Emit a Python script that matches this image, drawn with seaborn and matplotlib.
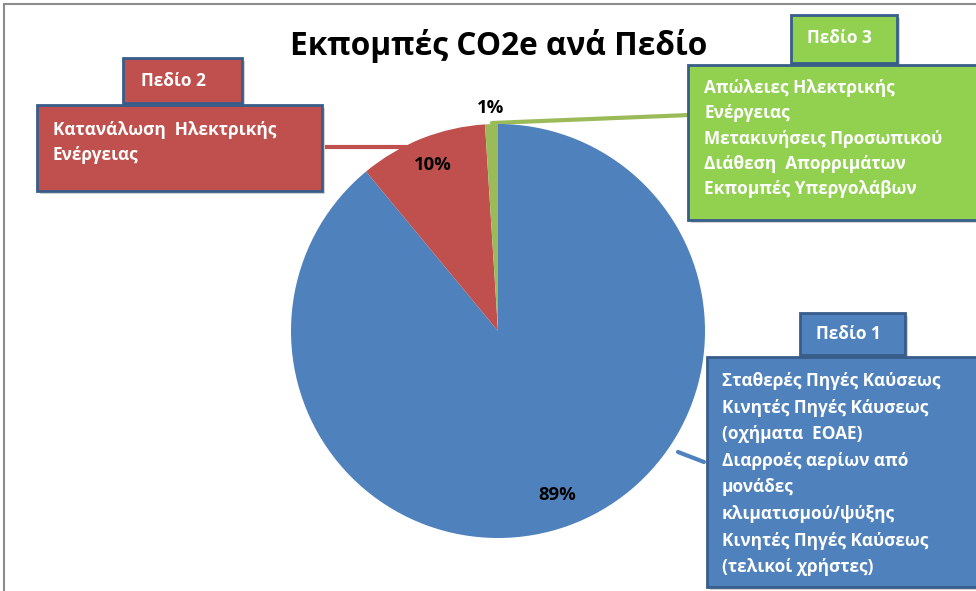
import matplotlib
matplotlib.use("Agg")
import matplotlib.pyplot as plt
import matplotlib.patches as mpatches
import numpy as np
import seaborn as sns

# DATA
scopes = ["Πεδίο 1", "Πεδίο 2", "Πεδίο 3"]
shares = [89, 10, 1]
scope1_sources = ["Σταθερές Πηγές Καύσεως", "Κινητές Πηγές Κάυσεως", "(οχήματα  ΕΟΑΕ)",
                  "Διαρροές αερίων από", "μονάδες", "κλιματισμού/ψύξης",
                  "Κινητές Πηγές Καύσεως", "(τελικοί χρήστες)"]
scope2_sources = ["Κατανάλωση  Ηλεκτρικής", "Ενέργειας"]
scope3_sources = ["Απώλειες Ηλεκτρικής", "Ενέργειας", "Μετακινήσεις Προσωπικού",
                  "Διάθεση  Απορριμάτων", "Εκπομπές Υπεργολάβων"]
title = "Εκπομπές CO2e ανά Πεδίο"

sns.set_theme(style="white")
plt.rcParams['font.family'] = ['Open Sans', 'DejaVu Sans']

slice_colors = ["#4F81BD", "#C0504D", "#9BBB59"]
box_colors = ["#4F81BD", "#C0504D", "#92D050"]
edge = "#385D8A"
fs = 12.4

fig = plt.figure(figsize=(9.76, 5.91), dpi=100)

# overlay in pixel coords
ov = fig.add_axes([0, 0, 1, 1])
ov.set_xlim(0, 976)
ov.set_ylim(591, 0)
ov.axis("off")

# pie axes: center (498, 331), radius 207 px
cx, cy, r = 498, 331, 207
pax = fig.add_axes([(cx - r) / 976, (591 - cy - r) / 591, 2 * r / 976, 2 * r / 591])
wedges, _ = pax.pie(shares, colors=slice_colors, startangle=90, counterclock=False,
                    radius=1, wedgeprops=dict(linewidth=0))
pax.set_xlim(-1, 1)
pax.set_ylim(-1, 1)
pax.set_aspect("equal")
pax.axis("off")

label_dist = [0.84, 0.86, 1.08]
for w, s, d in zip(wedges, shares, label_dist):
    mid = np.deg2rad((w.theta1 + w.theta2) / 2)
    pax.text(d * np.cos(mid), d * np.sin(mid), f"{s}%", ha="center", va="center",
             fontsize=13.3, fontweight="bold", color="black")

# frame lines
ov.plot([4, 4], [4, 591], color="#8c8c8c", lw=1.5)
ov.plot([4, 976], [4, 4], color="#8c8c8c", lw=1.5)

ov.text(499, 46, title, ha="center", va="center", fontsize=22.8, fontweight="bold", color="black")


def box(x0, y0, x1, y1, fc):
    ov.add_patch(mpatches.Rectangle((x0 + 3, y0 + 3), x1 - x0, y1 - y0, fc="#d0d0d0",
                                    ec="none", zorder=2))
    ov.add_patch(mpatches.Rectangle((x0, y0), x1 - x0, y1 - y0, fc=fc, ec=edge, lw=2,
                                    zorder=3))


def lines(x, y0, step, texts):
    for i, t in enumerate(texts):
        ov.text(x, y0 + i * step, t, ha="left", va="center", fontsize=fs,
                fontweight="bold", color="white", zorder=4)


# leader lines
ov.plot([323, 406], [147, 147], color=slice_colors[1], lw=3, zorder=1)
ov.plot([492, 690], [123, 115], color=slice_colors[2], lw=3, zorder=1)
ov.plot([678, 704], [452, 462], color=slice_colors[0], lw=3, zorder=1)

# Scope 2
box(123, 58, 242, 103, box_colors[1])
ov.text(141, 81, scopes[1], ha="left", va="center", fontsize=fs, fontweight="bold",
        color="white", zorder=4)
box(37, 105, 322, 191, box_colors[1])
lines(53, 130, 25.5, scope2_sources)

# Scope 3
box(791, 15, 897, 63, box_colors[2])
ov.text(807, 38, scopes[2], ha="left", va="center", fontsize=fs, fontweight="bold",
        color="white", zorder=4)
box(688, 65, 990, 220, box_colors[2])
lines(704, 88, 25.3, scope3_sources)

# Scope 1
box(800, 313, 905, 355, box_colors[0])
ov.text(816, 334, scopes[0], ha="left", va="center", fontsize=fs, fontweight="bold",
        color="white", zorder=4)
box(707, 357, 990, 587, box_colors[0])
lines(722, 381, 26.6, scope1_sources)

plt.savefig("out.png", dpi=100)
